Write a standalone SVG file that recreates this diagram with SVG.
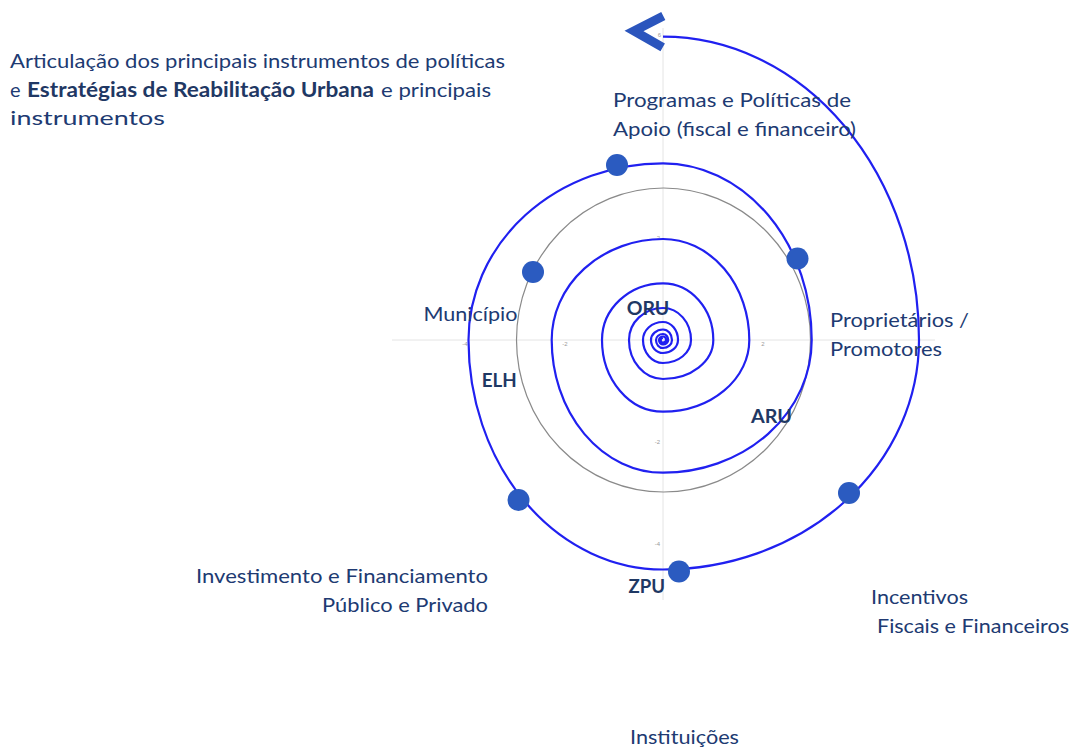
<svg xmlns="http://www.w3.org/2000/svg" width="1073" height="749" viewBox="0 0 1073 749">
<style>
.lbl{font-family:Lato,"Liberation Sans",Arial,sans-serif;font-size:20px;fill:#203a72}
.bl{font-family:Lato,"Liberation Sans",Arial,sans-serif;font-size:19px;font-weight:bold;fill:#1f3864}
.tick{font-family:"Liberation Sans",Arial,sans-serif;font-size:6px;fill:#9a9a9a}
.axis{stroke:#e4e4e4;stroke-width:1;fill:none}
.dot{fill:#2b5bc0}
.spiral{fill:none;stroke:#2020f0;stroke-width:2.2}
.chev{fill:none;stroke:#2b55bd;stroke-width:9;stroke-linejoin:miter;stroke-miterlimit:10}
</style>
<rect width="1073" height="749" fill="#ffffff"/>
<g id="axes">
<line class="axis" x1="392" y1="340" x2="935" y2="340"/>
<line class="axis" x1="663" y1="28" x2="663" y2="600"/>
<text class="tick" x="465" y="346" text-anchor="middle">-4</text>
<text class="tick" x="565" y="346" text-anchor="middle">-2</text>
<text class="tick" x="763" y="346" text-anchor="middle">2</text>
<text class="tick" x="660" y="240" text-anchor="end">2</text>
<text class="tick" x="660" y="444" text-anchor="end">-2</text>
<text class="tick" x="660" y="546" text-anchor="end">-4</text>
<text class="tick" x="661" y="37" text-anchor="end">6</text>
</g>
<ellipse id="gray-circle" cx="663.5" cy="340" rx="147" ry="152" fill="none" stroke="#8a8a8a" stroke-width="1.2"/>
<g id="connectors">
<path class="spiral" d="M663,36.7 A256,303.3 0 0 1 919,340 A256,229.5 0 0 1 663,569.5 A194.5,229.5 0 0 1 468.5,340 A194.5,176.7 0 0 1 663,163.3 A148.7,176.7 0 0 1 811.7,340 A148.7,132.7 0 0 1 663,472.7 A111.3,132.7 0 0 1 551.7,340 A111.3,101 0 0 1 663,239 A86.3,101 0 0 1 749.3,340 A86.3,71.7 0 0 1 663,411.7 A61,71.7 0 0 1 602,340 A61,56.7 0 0 1 663,283.3 A50.3,56.7 0 0 1 713.3,340 A50.3,39 0 0 1 663,379 A34,39 0 0 1 629,340 A34,32 0 0 1 663,308 A28,32 0 0 1 691,340 A28,23 0 0 1 663,363 A20,23 0 0 1 643,340 A20,18 0 0 1 663,322 A15,18 0 0 1 678,340 A15,13 0 0 1 663,353 A12,13 0 0 1 651,340 A12,10.5 0 0 1 663,329.5 A9,10.5 0 0 1 672,340 A9,8 0 0 1 663,348 A7,8 0 0 1 656,340 A7,6 0 0 1 663,334 A5.2,6 0 0 1 668.2,340 A5.2,4.5 0 0 1 663,344.5 A4,4.5 0 0 1 659,340 A4,3.5 0 0 1 663,336.5 A3,3.5 0 0 1 666,340 A3,2.6 0 0 1 663,342.6 A2.3,2.6 0 0 1 660.7,340 A2.3,2 0 0 1 663,338"/>
<polyline class="chev" points="663.3,16 634,31 662.7,47.3"/>
</g>
<g id="title">
<text class="lbl" x="10" y="68" textLength="495" lengthAdjust="spacingAndGlyphs">Articulação dos principais instrumentos de políticas</text>
<text class="lbl" y="96.5"><tspan x="10">e</tspan><tspan x="27" font-weight="bold" fill="#1f3864" textLength="347" lengthAdjust="spacingAndGlyphs">Estratégias de Reabilitação Urbana</tspan><tspan x="381" textLength="110" lengthAdjust="spacingAndGlyphs">e principais</tspan></text>
<text class="lbl" x="10" y="124.5" textLength="155" lengthAdjust="spacingAndGlyphs">instrumentos</text>
</g>
<g id="node-programas">
<circle class="dot" cx="617" cy="165" r="11"/>
<text class="lbl" x="613" y="107" textLength="238" lengthAdjust="spacingAndGlyphs">Programas e Políticas de</text>
<text class="lbl" x="613" y="136" textLength="243" lengthAdjust="spacingAndGlyphs">Apoio (fiscal e financeiro)</text>
</g>
<g id="node-proprietarios">
<circle class="dot" cx="797.5" cy="258.5" r="11"/>
<text class="lbl" x="830" y="326.5" textLength="139" lengthAdjust="spacingAndGlyphs">Proprietários /</text>
<text class="lbl" x="830" y="355.5" textLength="112" lengthAdjust="spacingAndGlyphs">Promotores</text>
</g>
<g id="node-municipio">
<circle class="dot" cx="533" cy="272" r="11"/>
<text class="lbl" x="423.5" y="320.5" textLength="94" lengthAdjust="spacingAndGlyphs">Município</text>
</g>
<g id="node-investimento">
<circle class="dot" cx="518.5" cy="500" r="11"/>
<text class="lbl" x="196" y="583" textLength="292" lengthAdjust="spacingAndGlyphs">Investimento e Financiamento</text>
<text class="lbl" x="322" y="612" textLength="166" lengthAdjust="spacingAndGlyphs">Público e Privado</text>
</g>
<g id="node-incentivos">
<circle class="dot" cx="849" cy="493" r="11"/>
<text class="lbl" x="871" y="604" textLength="97" lengthAdjust="spacingAndGlyphs">Incentivos</text>
<text class="lbl" x="877" y="633" textLength="192" lengthAdjust="spacingAndGlyphs">Fiscais e Financeiros</text>
</g>
<g id="node-zpu">
<circle class="dot" cx="679" cy="571.5" r="11"/>
<text class="bl" x="628.5" y="592.7" textLength="36.5" lengthAdjust="spacingAndGlyphs">ZPU</text>
</g>
<g id="node-instituicoes">
<text class="lbl" x="630" y="744" textLength="109" lengthAdjust="spacingAndGlyphs">Instituições</text>
</g>
<g id="node-oru">
<text class="bl" x="626.7" y="314.5" textLength="42.6" lengthAdjust="spacingAndGlyphs">ORU</text>
</g>
<g id="node-elh">
<text class="bl" x="481.7" y="387.3" textLength="35" lengthAdjust="spacingAndGlyphs">ELH</text>
</g>
<g id="node-aru">
<text class="bl" x="751" y="423" textLength="41" lengthAdjust="spacingAndGlyphs">ARU</text>
</g>
</svg>
